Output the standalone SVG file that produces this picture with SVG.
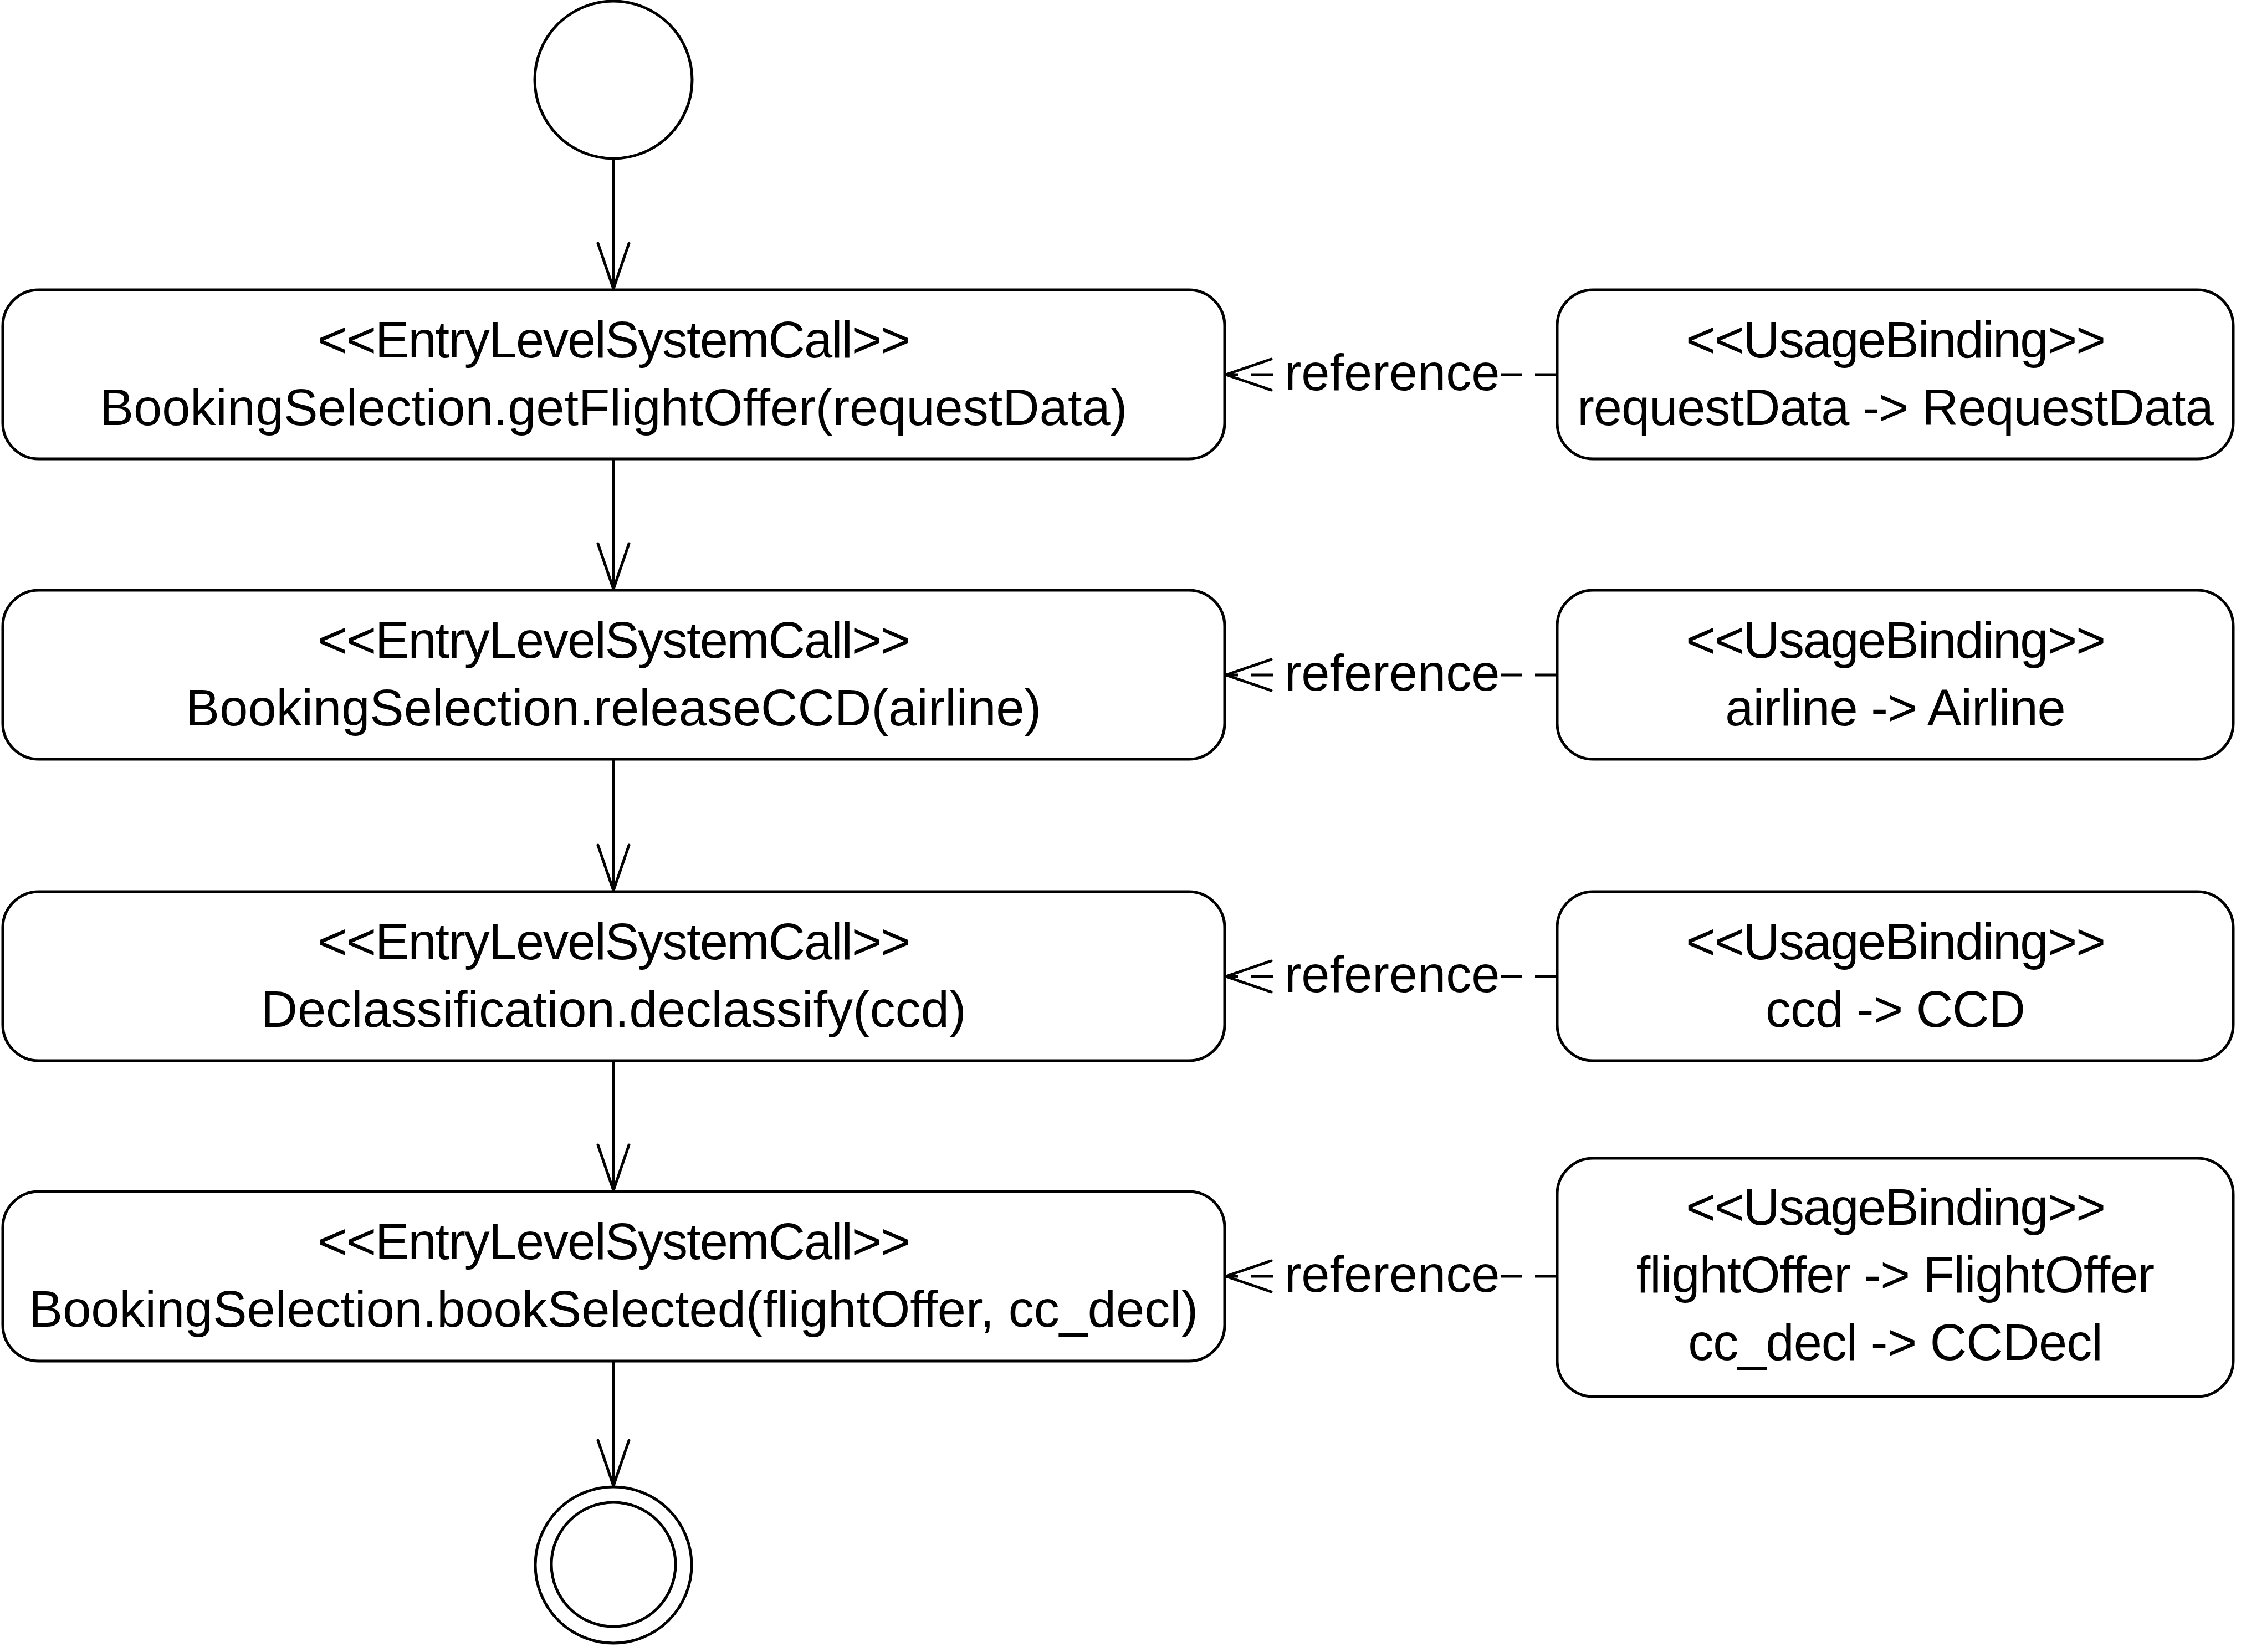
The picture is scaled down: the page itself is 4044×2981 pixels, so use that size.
<svg xmlns="http://www.w3.org/2000/svg" width="4044" height="2981" viewBox="0 0 4044 2981">
<style>
.box{fill:#fff;stroke:#000;stroke-width:5}
.circ{fill:#fff;stroke:#000;stroke-width:5}
.t{font-family:"Liberation Sans",Arial,sans-serif;font-size:92px;fill:#000;text-anchor:middle}
.st{letter-spacing:-2px}
.bd{letter-spacing:-1px}
.flow{fill:none;stroke:#000;stroke-width:5}
.ref{fill:none;stroke:#000;stroke-width:5;stroke-dasharray:40 24}
.lblbg{fill:#fff;stroke:none}
</style>
<defs>
<marker id="open" markerUnits="userSpaceOnUse" markerWidth="200" markerHeight="200" viewBox="-100 -100 200 200" refX="0" refY="0" orient="auto" overflow="visible">
<path d="M-82,-28 L0,0 L-82,28" fill="none" stroke="#000" stroke-width="5" stroke-linecap="round" stroke-linejoin="round" stroke-dasharray="none"/>
</marker>
</defs>
<rect width="4044" height="2981" fill="#fff"/>

<g id="connectors">
<path class="flow" d="M1107,286 L1107,521" marker-end="url(#open)"/>
<path class="flow" d="M1107,828 L1107,1063" marker-end="url(#open)"/>
<path class="flow" d="M1107,1370 L1107,1607" marker-end="url(#open)"/>
<path class="flow" d="M1107,1914 L1107,2148" marker-end="url(#open)"/>
<path class="flow" d="M1107,2456 L1107,2681" marker-end="url(#open)"/>

<g id="ref1">
<path class="ref" d="M2810,676 L2212,676" marker-end="url(#open)"/>
<rect class="lblbg" x="2312" y="630" width="396" height="96"/>
<text class="t" x="2512" y="704">reference</text>
</g>
<g id="ref2">
<path class="ref" d="M2810,1218 L2212,1218" marker-end="url(#open)"/>
<rect class="lblbg" x="2312" y="1172" width="396" height="96"/>
<text class="t" x="2512" y="1246">reference</text>
</g>
<g id="ref3">
<path class="ref" d="M2810,1762 L2212,1762" marker-end="url(#open)"/>
<rect class="lblbg" x="2312" y="1716" width="396" height="96"/>
<text class="t" x="2512" y="1790">reference</text>
</g>
<g id="ref4">
<path class="ref" d="M2810,2303 L2212,2303" marker-end="url(#open)"/>
<rect class="lblbg" x="2312" y="2257" width="396" height="96"/>
<text class="t" x="2512" y="2331">reference</text>
</g>
</g>

<g id="start">
<circle class="circ" cx="1107" cy="144" r="142"/>
</g>

<g id="call1">
<rect class="box" x="5" y="523" width="2205" height="305" rx="65" ry="65"/>
<text class="t st" x="1107" y="645">&lt;&lt;EntryLevelSystemCall&gt;&gt;</text>
<text class="t" x="1107" y="767">BookingSelection.getFlightOffer(requestData)</text>
</g>
<g id="call2">
<rect class="box" x="5" y="1065" width="2205" height="305" rx="65" ry="65"/>
<text class="t st" x="1107" y="1187">&lt;&lt;EntryLevelSystemCall&gt;&gt;</text>
<text class="t" x="1107" y="1309">BookingSelection.releaseCCD(airline)</text>
</g>
<g id="call3">
<rect class="box" x="5" y="1609" width="2205" height="305" rx="65" ry="65"/>
<text class="t st" x="1107" y="1731">&lt;&lt;EntryLevelSystemCall&gt;&gt;</text>
<text class="t" x="1107" y="1853">Declassification.declassify(ccd)</text>
</g>
<g id="call4">
<rect class="box" x="5" y="2150" width="2205" height="306" rx="65" ry="65"/>
<text class="t st" x="1107" y="2272">&lt;&lt;EntryLevelSystemCall&gt;&gt;</text>
<text class="t" x="1107" y="2394">BookingSelection.bookSelected(flightOffer, cc_decl)</text>
</g>

<g id="binding1">
<rect class="box" x="2810" y="523" width="1220" height="305" rx="65" ry="65"/>
<text class="t st" x="3420" y="645">&lt;&lt;UsageBinding&gt;&gt;</text>
<text class="t bd" x="3420" y="767">requestData -&gt; RequestData</text>
</g>
<g id="binding2">
<rect class="box" x="2810" y="1065" width="1220" height="305" rx="65" ry="65"/>
<text class="t st" x="3420" y="1187">&lt;&lt;UsageBinding&gt;&gt;</text>
<text class="t bd" x="3420" y="1309">airline -&gt; Airline</text>
</g>
<g id="binding3">
<rect class="box" x="2810" y="1609" width="1220" height="305" rx="65" ry="65"/>
<text class="t st" x="3420" y="1731">&lt;&lt;UsageBinding&gt;&gt;</text>
<text class="t bd" x="3420" y="1853">ccd -&gt; CCD</text>
</g>
<g id="binding4">
<rect class="box" x="2810" y="2090" width="1220" height="430" rx="65" ry="65"/>
<text class="t st" x="3420" y="2210">&lt;&lt;UsageBinding&gt;&gt;</text>
<text class="t bd" x="3420" y="2332">flightOffer -&gt; FlightOffer</text>
<text class="t bd" x="3420" y="2454">cc_decl -&gt; CCDecl</text>
</g>

<g id="end">
<circle class="circ" cx="1107" cy="2824" r="141"/>
<circle class="circ" cx="1107" cy="2823" r="112"/>
</g>
</svg>
